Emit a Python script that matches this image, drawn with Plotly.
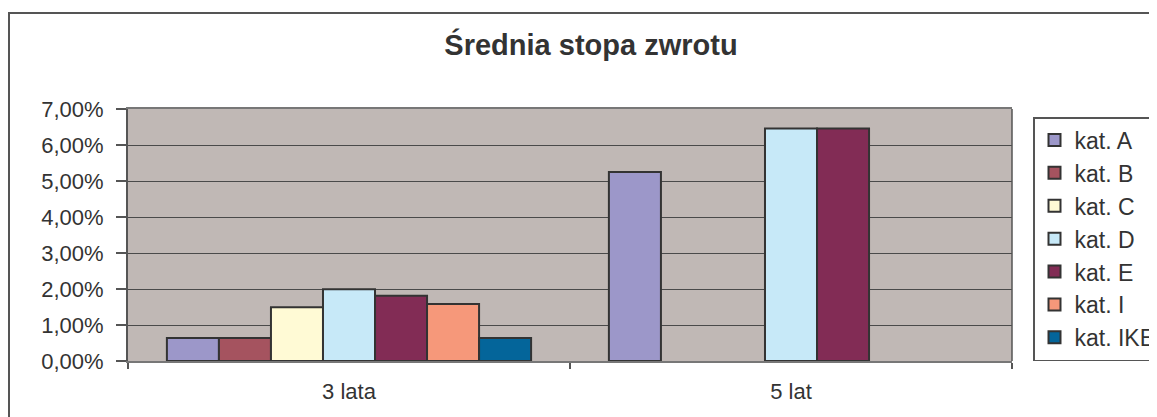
import plotly.graph_objects as go

categories = ["3 lata", "5 lat"]
series_names = ["kat. A", "kat. B", "kat. C", "kat. D", "kat. E", "kat. I", "kat. IKE"]
# values in percent
kat_a = [0.64, 5.25]
kat_b = [0.64, None]
kat_c = [1.49, None]
kat_d = [1.99, 6.46]
kat_e = [1.81, 6.46]
kat_i = [1.58, None]
kat_ike = [0.64, None]
series_values = [kat_a, kat_b, kat_c, kat_d, kat_e, kat_i, kat_ike]
colors = ["#9C97C9", "#A5535F", "#FFFAD5", "#C7E9F8", "#822C55", "#F6987A", "#04659A"]
y_ticks = [0, 1, 2, 3, 4, 5, 6, 7]

OFF = 8  # page body margin
W, H = 1157 - OFF, 417 - OFF
L, R, T, B = 128 - OFF, 1012 - OFF, 109 - OFF, 361 - OFF

def px_x(p):
    return (p - OFF - L) / (R - L)

def px_y(p):
    return (B - (p - OFF)) / (B - T)

fig = go.Figure()
for name, vals, col in zip(series_names, series_values, colors):
    fig.add_trace(go.Bar(
        name=name, x=categories,
        y=[v / 100 if v is not None else None for v in vals],
        marker=dict(color=col, line=dict(color="#333333", width=2)),
        hoverinfo="skip",
    ))

font = "Liberation Sans, Arial, sans-serif"
fig.update_layout(
    width=W, height=H,
    margin=dict(l=L, r=W - R, t=T, b=H - B, autoexpand=False),
    paper_bgcolor="white",
    plot_bgcolor="#C0B8B5",
    barmode="group",
    bargap=0.176,
    bargroupgap=0,
    separators=", ",
    font=dict(family=font, size=22, color="#333333"),
    title=dict(text="<b>Średnia stopa zwrotu</b>", x=px_x(591), xref="paper", xanchor="center",
               y=1 - (45 - OFF) / H, yref="container", yanchor="middle",
               font=dict(family=font, size=29, color="#333333")),
    showlegend=True,
    legend=dict(x=px_x(1033), xanchor="left", y=px_y(117), yanchor="top",
                bordercolor="#555555", borderwidth=1.5, bgcolor="white",
                font=dict(family=font, size=23, color="#333333"),
                traceorder="normal", entrywidth=150, entrywidthmode="pixels"),
    xaxis=dict(type="category", showgrid=False, tickson="boundaries",
               ticks="outside", ticklen=6, tickcolor="#555555", tickwidth=1.5,
               showline=True, linecolor="#777777", linewidth=1.5, mirror=True,
               ticklabelstandoff=10),
    yaxis=dict(range=[0, 0.07], tickvals=[t / 100 for t in y_ticks], tickformat=".2%",
               showgrid=True, gridcolor="#4A4A4A", gridwidth=1.3,
               ticks="outside", ticklen=10, tickcolor="#555555", tickwidth=1.5,
               showline=True, linecolor="#555555", linewidth=2, mirror=False,
               zeroline=False, ticklabelstandoff=8),
    shapes=[dict(type="line", xref="paper", yref="paper", x0=1, x1=1, y0=0, y1=1,
                 line=dict(color="#555555", width=1.5)),
            dict(type="rect", xref="paper", yref="paper",
                 x0=px_x(9), x1=px_x(1200), y0=px_y(13), y1=px_y(450),
                 line=dict(color="#555555", width=2), layer="below")],
)

fig.write_html("out.html")
